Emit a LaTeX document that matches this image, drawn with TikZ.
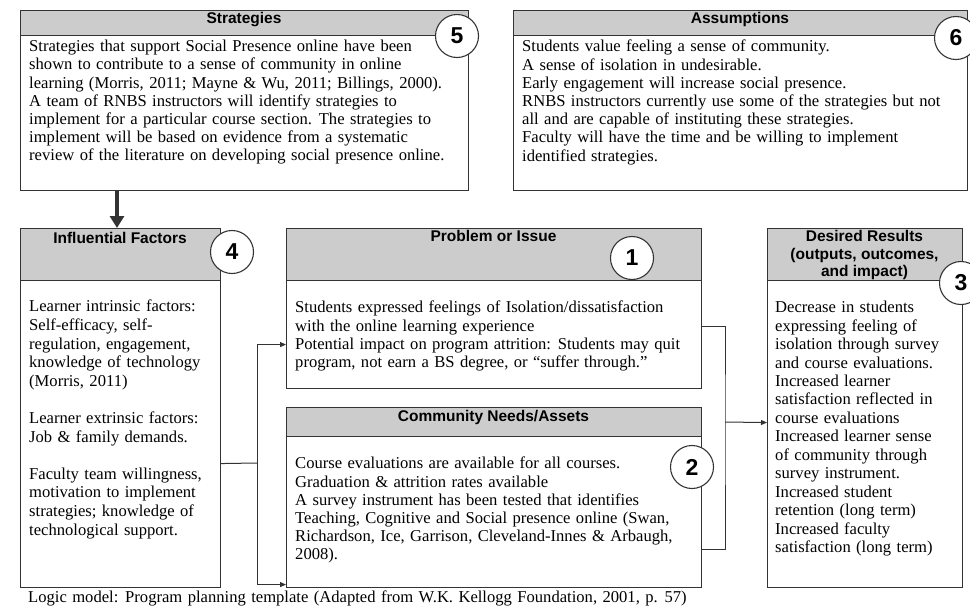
\documentclass[tikz,border=0pt]{standalone}
\usepackage{fontspec}
\setmainfont{Liberation Serif}
\newfontfamily\hdfont{Liberation Sans}
\usetikzlibrary{arrows.meta}
\newcommand\widesp{\spaceskip=5.4pt\relax}
\begin{document}
\begin{tikzpicture}[x=1pt,y=-1pt,
  box/.style={draw=black!80, line width=1.1pt, fill=white, anchor=north west, inner sep=0pt},
  hd/.style={draw=black!80, line width=1.1pt, fill=gray!40, anchor=north west, inner sep=0pt},
  ttl/.style={inner sep=0pt, align=center, font=\hdfont\bfseries\fontsize{15.5}{17.6}\selectfont},
  txt/.style={inner sep=0pt, anchor=north west, align=left, font={\fontsize{16.6}{18.2}\selectfont\widesp}},
  num/.style={circle, draw=black!80, line width=1.1pt, fill=white, minimum size=43pt, inner sep=0pt, font=\hdfont\bfseries\fontsize{23}{23}\selectfont},
  wire/.style={draw=black!80, line width=1pt},
  conn/.style={wire, -{Triangle[length=6pt,width=5pt]}}]
\useasboundingbox (0,0) rectangle (970,606);
\node[box, minimum width=448pt, minimum height=180pt] (box5) at (20,10) {};
\node[hd, minimum width=448pt, minimum height=25pt] (hd5) at (20,10) {};
\node[ttl, anchor=base] (t5) at (244,23.5) {Strategies};
\node[txt] (txt5) at (29,40) {Strategies that support Social Presence online have been\\
shown to contribute to a sense of community in online\\
learning (Morris, 2011; Mayne \& Wu, 2011; Billings, 2000).\\
A team of RNBS instructors will identify strategies to\\
implement for a particular course section. The strategies to\\
implement will be based on evidence from a systematic\\
review of the literature on developing social presence online.};
\node[num] (num5) at (457,36) {5};
\node[box, minimum width=454pt, minimum height=180pt] (box6) at (513,10) {};
\node[hd, minimum width=454pt, minimum height=25pt] (hd6) at (513,10) {};
\node[ttl, anchor=base] (t6) at (740,23.5) {Assumptions};
\node[txt] (txt6) at (522,40) {Students value feeling a sense of community.\\
A sense of isolation in undesirable.\\
Early engagement will increase social presence.\\
RNBS instructors currently use some of the strategies but not\\
all and are capable of instituting these strategies.\\
Faculty will have the time and be willing to implement\\
identified strategies.};
\node[num] (num6) at (956,38) {6};
\node[box, minimum width=200pt, minimum height=359pt] (box4) at (20,228) {};
\node[hd, minimum width=200pt, minimum height=52pt] (hd4) at (20,228) {};
\node[ttl, anchor=base] (t4) at (120,243.5) {Influential Factors};
\node[txt, font={\fontsize{16.6}{18.6}\selectfont\widesp}] (txt4) at (29,300) {Learner intrinsic factors:\\
Self-efficacy, self-\\
regulation, engagement,\\
knowledge of technology\\
(Morris, 2011)\\[18.6pt]
Learner extrinsic factors:\\
Job \& family demands.\\[18.6pt]
Faculty team willingness,\\
motivation to implement\\
strategies; knowledge of\\
technological support.};
\node[num] (num4) at (232,252) {4};
\node[box, minimum width=415pt, minimum height=160pt] (box1) at (286,228) {};
\node[hd, minimum width=415pt, minimum height=52pt] (hd1) at (286,228) {};
\node[ttl, anchor=base] (t1) at (493.5,241.5) {Problem or Issue};
\node[txt] (txt1) at (295,301) {Students expressed feelings of Isolation/dissatisfaction\\
with the online learning experience\\
Potential impact on program attrition: Students may quit\\
program, not earn a BS degree, or ``suffer through.''};
\node[num] (num1) at (632,258) {1};
\node[box, minimum width=415pt, minimum height=180pt] (box2) at (286,407) {};
\node[hd, minimum width=415pt, minimum height=29pt] (hd2) at (286,407) {};
\node[ttl, anchor=base] (t2) at (493.5,421.5) {Community Needs/Assets};
\node[txt] (txt2) at (295,457) {Course evaluations are available for all courses.\\
Graduation \& attrition rates available\\
A survey instrument has been tested that identifies\\
Teaching, Cognitive and Social presence online (Swan,\\
Richardson, Ice, Garrison, Cleveland-Innes \& Arbaugh,\\
2008).};
\node[num] (num2) at (692,467) {2};
\node[box, minimum width=195pt, minimum height=359pt] (box3) at (767,228) {};
\node[hd, minimum width=195pt, minimum height=52pt] (hd3) at (767,228) {};
\node[ttl, anchor=north] (t3) at (864.5,230) {Desired Results\\(outputs, outcomes,\\and impact)};
\node[txt, font={\fontsize{16.6}{18.45}\selectfont\widesp}] (txt3) at (775,301) {Decrease in students\\
expressing feeling of\\
isolation through survey\\
and course evaluations.\\
Increased learner\\
satisfaction reflected in\\
course evaluations\\
Increased learner sense\\
of community through\\
survey instrument.\\
Increased student\\
retention (long term)\\
Increased faculty\\
satisfaction (long term)};
\node[num] (num3) at (961,283) {3};
\node[txt, anchor=base west] (cap) at (28,602) {Logic model: Program planning template (Adapted from W.K. Kellogg Foundation, 2001, p. 57)};
\coordinate (drop) at (117,0);
\coordinate (fork) at (257,463);
\coordinate (join) at (725,422);
\draw[wire, line width=3.5pt, -{Triangle[length=12pt,width=14pt]}] (box5.south -| drop) -- (box4.north -| drop);
\draw[wire] ([yshift=-55.5pt]box4.east) -- (fork);
\draw[conn] (fork) |- ([yshift=-36pt]box1.west);
\draw[conn] (fork) |- ([yshift=-87pt]box2.west);
\draw[wire] ([yshift=-18pt]box1.east) -| (join) |- ([yshift=-52pt]box2.east);
\draw[conn] (join) -- ([yshift=-14.5pt]box3.west);
\end{tikzpicture}
\end{document}
